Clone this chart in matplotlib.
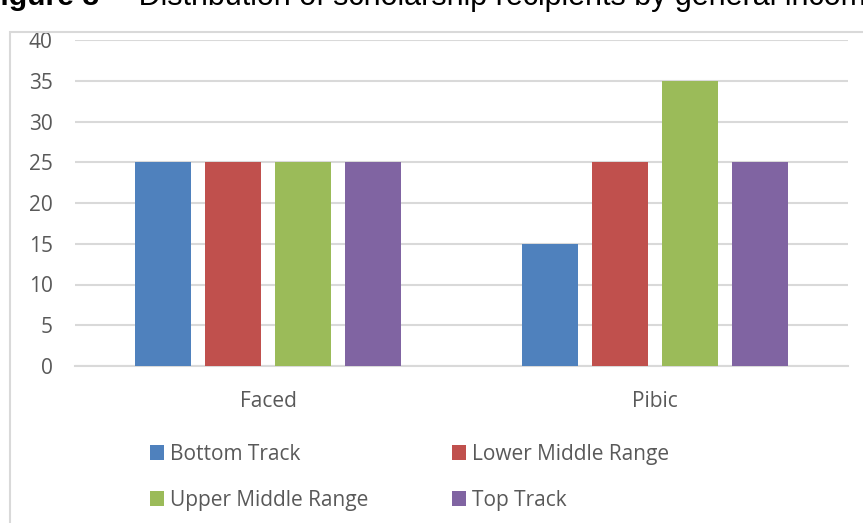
import numpy as np
import matplotlib
matplotlib.use('Agg')
import matplotlib.pyplot as plt
from matplotlib.patches import Rectangle

# data
categories = ['Faced', 'Pibic']
series_names = ['Bottom Track', 'Lower Middle Range', 'Upper Middle Range', 'Top Track']
values = {
    'Bottom Track': [25, 15],
    'Lower Middle Range': [25, 25],
    'Upper Middle Range': [25, 35],
    'Top Track': [25, 25],
}
colors = ['#4f81bd', '#c0504d', '#9bbb59', '#8064a2']
yticks = [0, 5, 10, 15, 20, 25, 30, 35, 40]

W, H = 863, 523
fig = plt.figure(figsize=(W / 100, H / 100), dpi=100)
plt.rcParams['font.family'] = ['Open Sans', 'DejaVu Sans']

# chart area border (Excel style), left/top only visible
fig.patches.append(Rectangle((10 / W, -0.1), 1.2, 1 - 32 / H + 0.1,
                             transform=fig.transFigure, fill=False,
                             edgecolor='#d9d9d9', linewidth=1.5))

# clipped title at top
fig.text(-18 / W, 1 - 5 / H, 'Figure 8', fontsize=21.7, fontweight='bold',
         family='Liberation Sans', va='baseline', ha='left', color='#000000')
fig.text(113 / W, 1 - 5 / H,
         '\u2013 Distribution of scholarship recipients by general income',
         fontsize=22, family='Liberation Sans', va='baseline', ha='left',
         color='#000000')

ax = fig.add_axes([75 / W, 1 - 366 / H, (848 - 75) / W, (366 - 40) / H])

x = np.arange(len(categories))
step = 70 / 386.5
width = 56 / 386.5
for i, name in enumerate(series_names):
    ax.bar(x + (i - 1.5) * step, values[name], width=width,
           color=colors[i], label=name, zorder=3)

ax.set_xlim(-0.5, 1.5)
ax.set_ylim(0, 40)
ax.set_yticks(yticks)
ax.set_xticks(x)
ax.set_xticklabels(categories)
ax.grid(axis='y', color='#d9d9d9', linewidth=1.5, zorder=0)
for s in ['left', 'right', 'top']:
    ax.spines[s].set_visible(False)
ax.spines['bottom'].set_color('#d9d9d9')
ax.spines['bottom'].set_linewidth(1.5)
ax.tick_params(axis='both', length=0, labelsize=15, labelcolor='#595959')
ax.tick_params(axis='y', pad=16)
ax.tick_params(axis='x', pad=18)

# legend filled row by row, like Excel
handles, labels = ax.get_legend_handles_labels()
order = [0, 2, 1, 3]
fig.legend([handles[k] for k in order], [labels[k] for k in order],
           ncol=2, loc='upper left',
           bbox_to_anchor=(131 / W, 1 - 425 / H), frameon=False,
           fontsize=15, labelcolor='#595959', handlelength=0.67,
           handleheight=0.67, handletextpad=0.3, columnspacing=4.0,
           labelspacing=1.2)

fig.savefig('out.png', dpi=100)
